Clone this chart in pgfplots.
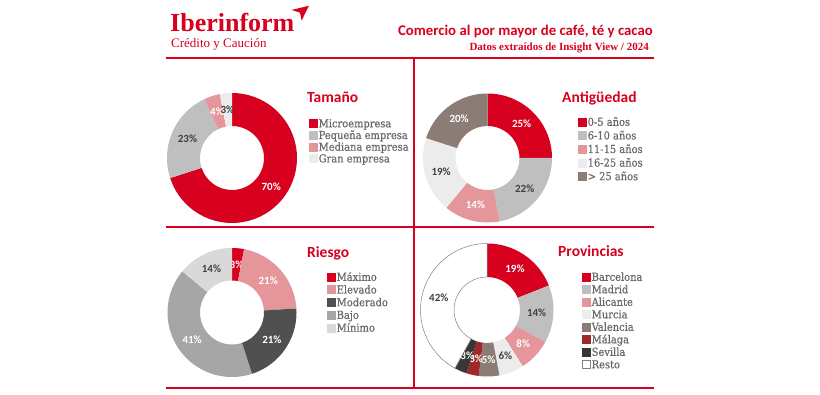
\documentclass[border=0pt]{standalone}
\usepackage{pgfplots}
\pgfplotsset{compat=1.18}
\usepackage{fontspec}
\setmainfont{Liberation Serif}
\newfontfamily\carl{Carlito}
\newfontfamily\legf{DejaVu Serif Condensed}[FakeBold=0.6]
\definecolor{iberred}{RGB}{215,0,30}
\definecolor{cgray}{RGB}{191,191,191}
\definecolor{cpink}{RGB}{228,150,155}
\definecolor{clight}{RGB}{236,236,236}
\definecolor{cbrown}{RGB}{140,124,118}
\definecolor{cmod}{RGB}{80,80,80}
\definecolor{cbajo}{RGB}{166,166,166}
\definecolor{cmin}{RGB}{217,217,217}
\definecolor{cmal}{RGB}{160,40,40}
\definecolor{csev}{RGB}{55,55,55}
\definecolor{ctxt}{RGB}{64,64,64}
\definecolor{clegt}{RGB}{105,105,105}
\newcommand\pctfont{\carl\bfseries\fontsize{11}{12}\selectfont}
\newcommand\legfont{\legf\fontsize{11}{12}\selectfont}
\newcommand\ttlfont{\carl\bfseries\fontsize{15.5}{17}\selectfont}
% donut helpers: values are plain percentages
\newcommand\donut[4]{\gdef\dcx{#1}\gdef\dcy{#2}\gdef\dR{#3}\gdef\dri{#4}\gdef\dcum{0}}
\newcommand\slice[4]{%
  \pgfmathsetmacro\sa{90-3.6*\dcum}%
  \pgfmathsetmacro\sb{90-3.6*(\dcum+#1)}%
  \pgfmathsetmacro\sm{90-3.6*(\dcum+#1/2)}%
  \pgfmathsetmacro\ix{\dcx+\dri*cos(\sa)}%
  \pgfmathsetmacro\iy{\dcy+\dri*sin(\sa)}%
  \pgfmathsetmacro\lx{\dcx+(\dR+\dri)/2*cos(\sm)}%
  \pgfmathsetmacro\ly{\dcy+(\dR+\dri)/2*sin(\sm)}%
  \edef\tmp{\noexpand\addplot[fill=#2, draw=#4, line width=0.5pt, domain=\sb:\sa, samples=60, forget plot] ({\dcx+\dR*cos(x)},{\dcy+\dR*sin(x)}) -- (axis cs:\ix,\iy) arc[start angle=\sa, end angle=\sb, radius=\dri pt] -- cycle;
   \noexpand\node[font=\noexpand\pctfont, text=#3, inner sep=0] at (axis cs:\lx,\ly) {#1\noexpand\%};}%
  \tmp
  \pgfmathsetmacro\newcum{\dcum+#1}\global\let\dcum\newcum
}
\newcommand\leg[5]{%
  \draw[fill=#3, draw=#4, line width=0.5pt] (axis cs:{#1-4},{#2-4}) rectangle (axis cs:{#1+4},{#2+4});
  \node[anchor=base west, inner sep=0, font=\legfont, text=clegt] at (axis cs:{#1+5.5},{#2-3.8}) {#5};}
\begin{document}
\begin{tikzpicture}
\useasboundingbox (0,0) rectangle (820pt,394pt);
\begin{axis}[at={(0,0)}, anchor=south west, scale only axis, width=820pt, height=394pt,
  xmin=0, xmax=820, ymin=0, ymax=394, enlargelimits=false, hide axis, clip=false]
% frame lines
\draw[iberred, line width=2.6pt] (axis cs:166,336) -- (axis cs:654,336);
\draw[iberred, line width=2.6pt] (axis cs:166,167) -- (axis cs:654,167);
\draw[iberred, line width=2.6pt] (axis cs:166,6) -- (axis cs:654,6);
\draw[iberred, line width=2.6pt] (axis cs:414,6) -- (axis cs:414,336);
% header
\node[anchor=base west, inner sep=0, text=iberred, font=\bfseries\fontsize{26}{28}\selectfont] at (axis cs:170,362) {Iberinform};
\node[anchor=base west, inner sep=0, text=iberred, font=\fontsize{13}{14}\selectfont] at (axis cs:171,346) {Crédito y Caución};
\fill[iberred] (axis cs:291.7,384) -- (axis cs:309,388.3) -- (axis cs:304.3,379) -- (axis cs:301.7,373.3) -- (axis cs:300,381.3) -- cycle;
\node[anchor=base east, inner sep=0, text=iberred, font=\carl\bfseries\fontsize{14.8}{16}\selectfont] at (axis cs:653,358) {Comercio al por mayor de café, té y cacao};
\node[anchor=base east, inner sep=0, text=iberred, font=\bfseries\fontsize{11}{12}\selectfont] at (axis cs:649,343) {Datos extraídos de Insight View / 2024};
% Tamaño
\donut{232}{236}{65}{32}
\slice{70}{iberred}{white}{none}
\slice{23}{cgray}{ctxt}{none}
\slice{4}{cpink}{white}{none}
\slice{3}{clight}{ctxt}{none}
\node[anchor=base west, inner sep=0, text=iberred, font=\ttlfont] at (axis cs:307,291.7) {Tamaño};
\leg{313}{270.5}{iberred}{iberred}{Microempresa}
\leg{313}{258.8}{cgray}{cgray}{Pequeña empresa}
\leg{313}{247.1}{cpink}{cpink}{Mediana empresa}
\leg{313}{235.4}{clight}{clight}{Gran empresa}
% Antigüedad
\donut{487.5}{236}{64.5}{32}
\slice{25}{iberred}{white}{none}
\slice{22}{cgray}{ctxt}{none}
\slice{14}{cpink}{white}{none}
\slice{19}{clight}{ctxt}{none}
\slice{20}{cbrown}{white}{none}
\node[anchor=base west, inner sep=0, text=iberred, font=\ttlfont] at (axis cs:562,291.7) {Antigüedad};
\leg{582}{272}{iberred}{iberred}{0-5 años}
\leg{582}{258.4}{cgray}{cgray}{6-10 años}
\leg{582}{244.8}{cpink}{cpink}{11-15 años}
\leg{582}{231.2}{clight}{clight}{16-25 años}
\leg{582}{217.6}{cbrown}{cbrown}{> 25 años}
% Riesgo
\donut{232}{81.5}{64.5}{32}
\slice{3}{iberred}{white}{none}
\slice{21}{cpink}{white}{none}
\slice{21}{cmod}{white}{none}
\slice{41}{cbajo}{white}{none}
\slice{14}{cmin}{ctxt}{none}
\node[anchor=base west, inner sep=0, text=iberred, font=\ttlfont] at (axis cs:307,136.7) {Riesgo};
\leg{331}{117}{iberred}{iberred}{Máximo}
\leg{331}{104.3}{cpink}{cpink}{Elevado}
\leg{331}{91.6}{cmod}{cmod}{Moderado}
\leg{331}{78.9}{cbajo}{cbajo}{Bajo}
\leg{331}{66.2}{cmin}{cmin}{Mínimo}
% Provincias
\donut{487}{84}{66.5}{33}
\slice{19}{iberred}{white}{none}
\slice{14}{cgray}{ctxt}{none}
\slice{8}{cpink}{white}{none}
\slice{6}{clight}{ctxt}{none}
\slice{5}{cbrown}{white}{none}
\slice{3}{cmal}{white}{none}
\slice{3}{csev}{white}{none}
\slice{42}{white}{ctxt}{gray}
\node[anchor=base west, inner sep=0, text=iberred, font=\ttlfont] at (axis cs:558,137.3) {Provincias};
\leg{586}{117}{iberred}{iberred}{Barcelona}
\leg{586}{104.5}{cgray}{cgray}{Madrid}
\leg{586}{92}{cpink}{cpink}{Alicante}
\leg{586}{79.5}{clight}{clight}{Murcia}
\leg{586}{67}{cbrown}{cbrown}{Valencia}
\leg{586}{54.5}{cmal}{cmal}{Málaga}
\leg{586}{42}{csev}{csev}{Sevilla}
\leg{586}{29.5}{white}{gray}{Resto}
\end{axis}
\end{tikzpicture}
\end{document}
